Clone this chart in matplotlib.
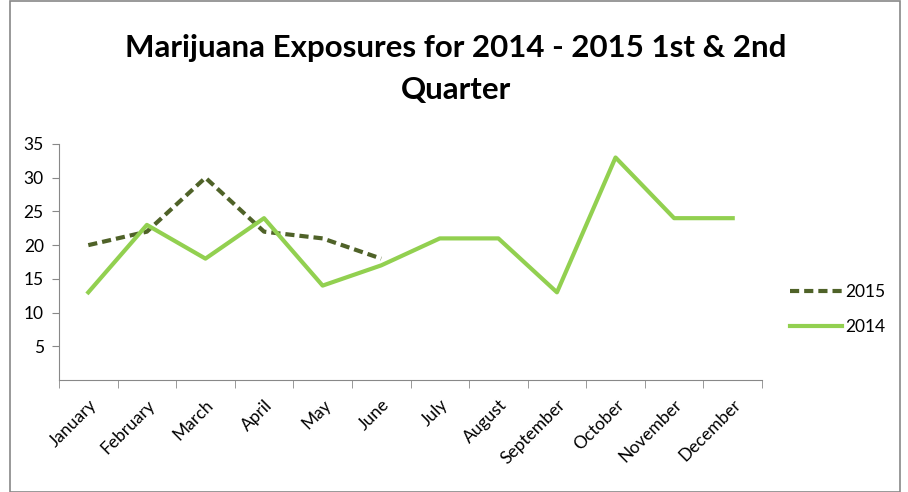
import matplotlib.pyplot as plt
import numpy as np
from matplotlib.patches import Rectangle

months = ['January', 'February', 'March', 'April', 'May', 'June', 'July',
          'August', 'September', 'October', 'November', 'December']
y2014 = [13, 23, 18, 24, 14, 17, 21, 21, 13, 33, 24, 24]
y2015 = [20, 22, 30, 22, 21, 18]

plt.rcParams['font.family'] = ['Lato', 'DejaVu Sans']

fig = plt.figure(figsize=(9.08, 4.92), dpi=100)
W, H = 908, 492
ax = fig.add_axes([59 / W, 1 - 380 / H, (762 - 59) / W, (380 - 144) / H])

x = np.arange(len(months))
ax.plot(x[:len(y2015)], y2015, color='#4f6228', lw=3, ls=(0, (2.2, 1.2)), label='2015')
ax.plot(x, y2014, color='#92d050', lw=3, label='2014')

ax.set_xlim(-0.5, 11.5)
ax.set_ylim(0, 35)
ax.set_yticks(range(5, 40, 5))
ax.set_xticks(x, months, rotation=45, ha='right', rotation_mode='anchor')
ax.set_xticks(np.arange(-0.5, 12, 1), minor=True)
ax.tick_params(axis='x', which='major', length=0, labelsize=12.5, pad=12)
ax.tick_params(axis='x', which='minor', length=6, color='#888888')
ax.tick_params(axis='y', length=5, color='#888888', labelsize=12.5, pad=6)
for s in ['top', 'right']:
    ax.spines[s].set_visible(False)
for s in ['left', 'bottom']:
    ax.spines[s].set_color('#888888')

fig.suptitle('Marijuana Exposures for 2014 - 2015 1st & 2nd\nQuarter',
             fontsize=22.5, fontweight='bold', y=0.93, x=0.502, linespacing=1.6)

ax.legend(loc='center left', bbox_to_anchor=(1.018, 0.30), frameon=False,
          fontsize=12.5, handlelength=3.0, handletextpad=0.15, labelspacing=1.1)

fig.patches.append(Rectangle((10 / W, 0), 890 / W, 1 - 1 / H, transform=fig.transFigure,
                             fill=False, edgecolor='#888888', lw=1.2))

fig.savefig('out.png', dpi=100)
